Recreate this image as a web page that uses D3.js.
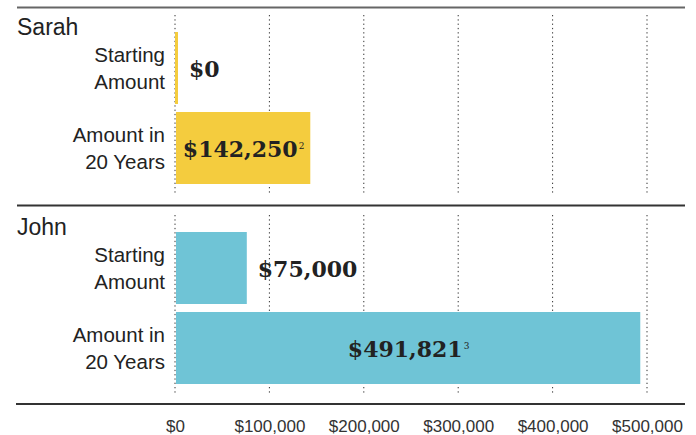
<!DOCTYPE html>
<html>
<head>
<meta charset="utf-8">
<script src="https://cdn.jsdelivr.net/npm/d3@7/dist/d3.min.js"></script>
<style>
  html, body { margin: 0; padding: 0; background: #fff; }
  svg { display: block; }
</style>
</head>
<body>
<svg id="chart" width="696" height="435"></svg>
<script>
// ---- data ----
const people = ["Sarah", "John"];
const categories = ["Starting Amount", "Amount in 20 Years"];
const categoryLines = [["Starting", "Amount"], ["Amount in", "20 Years"]];
const sarahValues = [0, 142250];
const johnValues = [75000, 491821];
const footnotes = [["", "2"], ["", "3"]];
const tickValues = [0, 100000, 200000, 300000, 400000, 500000];
const colors = ["#F4CC3E", "#6FC4D6"];

const allValues = [sarahValues, johnValues];

const svg = d3.select("#chart");

const x = d3.scaleLinear().domain([0, 500000]).range([175, 647]);
const groupY = d3.scaleBand().domain(people).range([0, 400]);
const rowY = d3.scaleBand().domain(categories).range([32, 184]).paddingInner(0.1);

const sansFont = "'Liberation Sans', Arial, sans-serif";
const serifFont = "'DejaVu Serif', serif";

// top rule
svg.append("line")
  .attr("x1", 17).attr("x2", 685).attr("y1", 7.5).attr("y2", 7.5)
  .attr("stroke", "#666").attr("stroke-width", 2);

people.forEach((p, gi) => {
  const g = svg.append("g").attr("transform", `translate(0,${groupY(p)})`);

  // gridlines
  g.selectAll("line.grid").data(tickValues).join("line")
    .attr("class", "grid")
    .attr("x1", d => x(d)).attr("x2", d => x(d))
    .attr("y1", 15).attr("y2", 195)
    .attr("stroke", "#333").attr("stroke-width", 1)
    .attr("stroke-dasharray", "1.3,3");

  // group title
  g.append("text")
    .attr("x", 17).attr("y", 35)
    .attr("font-family", sansFont).attr("font-size", 23)
    .attr("fill", "#222")
    .text(p);

  const vals = allValues[gi];
  categories.forEach((c, ci) => {
    const y0 = rowY(c), h = rowY.bandwidth(), cy = y0 + h / 2;
    const v = vals[ci];
    const w = Math.max(x(v) - x(0), 3);
    const bx = v === 0 ? x(0) : x(0) + 1;
    g.append("rect")
      .attr("x", bx).attr("y", y0)
      .attr("width", w).attr("height", h)
      .attr("fill", colors[gi]);

    // category label
    const lbl = g.append("text")
      .attr("text-anchor", "end")
      .attr("font-family", sansFont).attr("font-size", 20.5)
      .attr("fill", "#222");
    lbl.append("tspan").attr("x", 165).attr("y", cy - 6).text(categoryLines[ci][0]);
    lbl.append("tspan").attr("x", 165).attr("y", cy + 20.5).text(categoryLines[ci][1]);

    // value label
    const t = g.append("text")
      .attr("y", cy + 8.5)
      .attr("font-family", serifFont).attr("font-weight", "bold")
      .attr("font-size", 22).attr("fill", "#222");
    t.append("tspan").text(d3.format("$,")(v));
    const fn = footnotes[gi][ci];
    if (fn) {
      t.append("tspan").attr("font-size", 9).attr("font-weight", "normal")
        .attr("dx", 1).attr("dy", -8).text(fn);
    }
    const tw = t.node().getComputedTextLength();
    if (tw + 8 < w) {
      t.attr("x", bx + w / 2 - tw / 2);
    } else {
      t.attr("x", bx + w + 11);
    }
  });
});

// middle rule
svg.append("line")
  .attr("x1", 17).attr("x2", 685).attr("y1", 205.5).attr("y2", 205.5)
  .attr("stroke", "#333").attr("stroke-width", 2);

// bottom rule
svg.append("line")
  .attr("x1", 16).attr("x2", 685).attr("y1", 404).attr("y2", 404)
  .attr("stroke", "#333").attr("stroke-width", 2);

// x axis
const axis = d3.axisBottom(x)
  .tickValues(tickValues)
  .tickFormat(d3.format("$,"))
  .tickSize(0).tickPadding(3);
const ag = svg.append("g").attr("transform", "translate(0,416.5)").call(axis);
ag.select(".domain").remove();
ag.selectAll("text")
  .attr("font-family", sansFont).attr("font-size", 17)
  .attr("fill", "#333");
</script>
</body>
</html>
